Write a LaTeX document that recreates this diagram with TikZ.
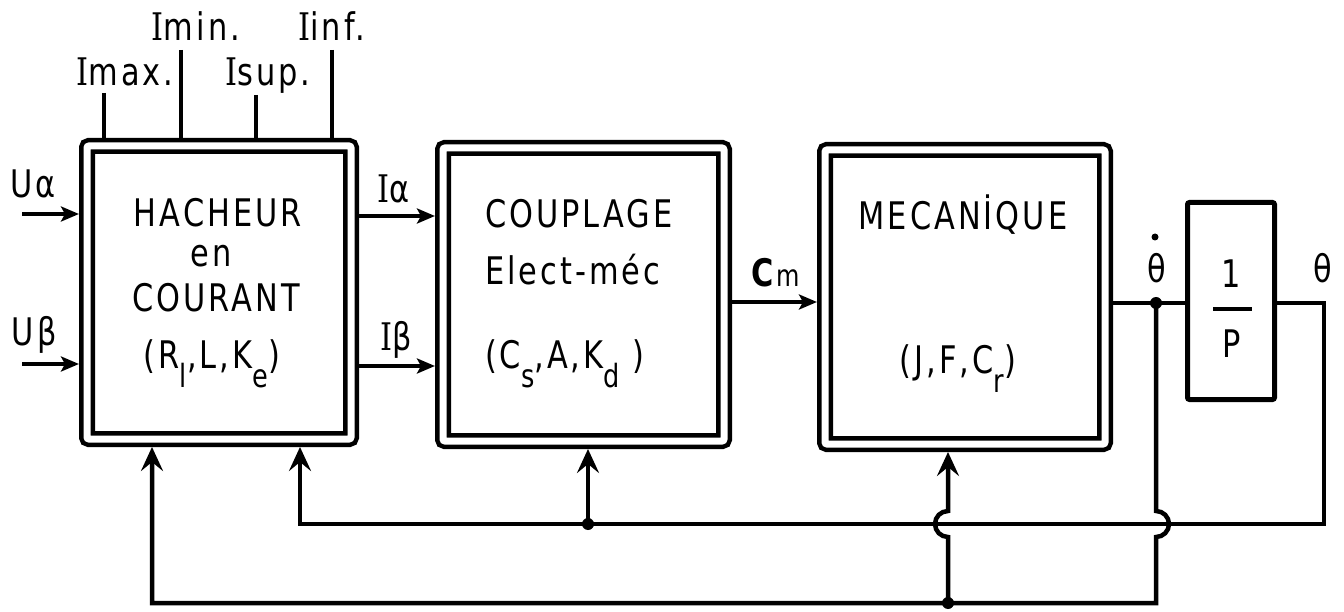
\documentclass[tikz,border=0pt]{standalone}
\usepackage{fontspec}
\setmainfont{DejaVu Sans}[FakeStretch=0.8,LetterSpace=8]
\newfontfamily\serifI{DejaVu Serif}[FakeStretch=0.8]
\usetikzlibrary{arrows.meta}
\newcommand{\lowsub}[1]{\raisebox{-19pt}{\fontsize{32}{32}\selectfont #1}}
\newcommand{\SI}{{\serifI I}}
\begin{document}
\begin{tikzpicture}[x=1pt,y=-1pt,
  every node/.style={inner sep=0pt, outer sep=0pt},
  big/.style={font=\fontsize{38}{38}\selectfont},
  dbox/.style={draw, line width=4.5pt, double, double distance=7pt, rounded corners=2pt,
    inner sep=0pt, outer sep=8pt},
  sbox/.style={draw, line width=5pt, rounded corners=2pt, inner sep=0pt, outer sep=2.5pt},
  wire/.style={line width=4.5pt},
  arr/.style={wire, -{Stealth[length=18pt,width=15pt,inset=4pt]}},
  arrbig/.style={wire, -{Stealth[length=24pt,width=22pt,inset=9pt]}}]
\useasboundingbox (0,0) rectangle (1344,612);

% blocks
\node[dbox, minimum width=264pt, minimum height=293pt] (hach) at (219,292.5) {};
\node[dbox, minimum width=281pt, minimum height=293pt] (coup) at (583.5,294.5) {};
\node[dbox, minimum width=280pt, minimum height=294pt] (mec) at (965,297) {};
\node[sbox, minimum width=87pt, minimum height=197pt] (inv) at (1231,301) {};

% texts in blocks
\node[big, anchor=base] (t1) at (218,227) {HACHEUR};
\node[big, anchor=base] (t2) at (211,267) {en};
\node[big, anchor=base] (t3) at (216,312) {COURANT};
\node[big, anchor=base] (t4) at (212,368) {(R\lowsub{l},L,K\lowsub{e})};
\node[big, anchor=base west] (c1) at (485,228) {COUPLAGE};
\node[big, anchor=base west] (c2) at (485,285) {Elect-méc};
\node[big, anchor=base west] (c3) at (485,368) {(C\lowsub{s},A,K\lowsub{d} )};
\node[big, anchor=base] (m1) at (963,230) {MECANİQUE};
\node[big, anchor=base] (m2) at (958,373) {(J,F,C\lowsub{r})};
\node[big, anchor=base] (p1) at (1231,288) {1};
\node[big, anchor=base] (p2) at (1232,357) {P};
\draw[line width=4.5pt] (1213,309) -- (1252,309);

% top inputs
\node[big, anchor=base] (imax) at (125,86) {\SI max.};
\node[big, anchor=base] (imin) at (196,41) {\SI min.};
\node[big, anchor=base] (isup) at (268,86) {\SI sup.};
\node[big, anchor=base] (iinf) at (332,41) {\SI inf.};
\draw[wire] (104,93) -- (104,0 |- hach.north);
\draw[wire] (181,50) -- (181,0 |- hach.north);
\draw[wire] (256,95) -- (256,0 |- hach.north);
\draw[wire] (332,50) -- (332,0 |- hach.north);

% left inputs
\node[big, anchor=base west] (ua) at (10,198) {Uα};
\node[big, anchor=base west] (ub) at (12,345) {Uβ};
\coordinate (ua0) at (22,214);
\coordinate (ub0) at (22,364);
\draw[arr] (ua0) -- (ua0 -| hach.west);
\draw[arr] (ub0) -- (ub0 -| hach.west);

% between blocks
\node[big, anchor=base west] (ia) at (377,203) {\SI α};
\node[big, anchor=base west] (ib) at (380,350) {\SI β};
\draw[arr] (hach.east |- 0,216) -- (coup.west |- 0,216);
\draw[arr] (hach.east |- 0,366) -- (coup.west |- 0,366);
\node[big, anchor=base west] (cm) at (751,287) {\textbf{C}{\fontsize{30}{30}\selectfont m}};
\draw[arr] (coup.east |- 0,302) -- (mec.west |- 0,302);

% outputs
\coordinate (jT) at (1156,303);
\coordinate (jC) at (588,524);
\coordinate (jM) at (948,603);
\draw[wire] (mec.east |- jT) -- (inv.west |- jT);
\node[big, anchor=base] (thd) at (1157,283) {θ};
\fill (1155,237) circle (3.5pt);
\node[big, anchor=base] (th) at (1323,283) {θ};

% theta feedback
\draw[arrbig] (inv.east |- jT) -- (1324,303) -- (1324,524) -- (300,524) -- (300,0 |- hach.south);
\draw[arrbig] (jC) -- (jC |- coup.south);
% theta-dot feedback
\draw[arrbig] (jT) -- (1156,511) arc[start angle=90, end angle=-90, radius=13pt]
   -- (1156,603) -- (152,603) -- (152,0 |- hach.south);
\draw[arrbig] (jM) -- (948,537) arc[start angle=-90, end angle=-270, radius=13pt]
   -- (948,0 |- mec.south);

\fill (jT) circle (6pt);
\fill (jC) circle (6pt);
\fill (jM) circle (6pt);
\end{tikzpicture}
\end{document}
